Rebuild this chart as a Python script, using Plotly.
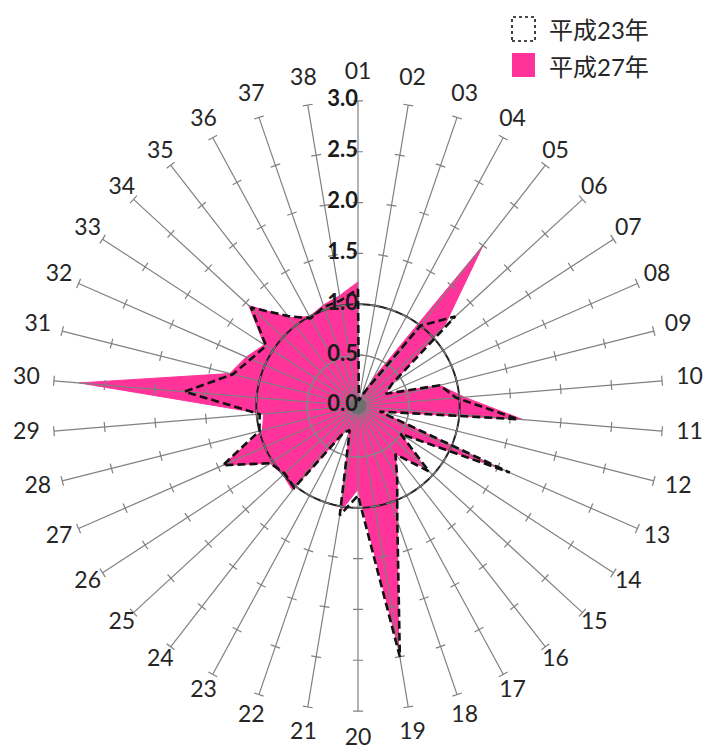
import math
import plotly.graph_objects as go

# ---- data ----
categories = [f"{i:02d}" for i in range(1, 39)]
h27_values = [1.22, 0.05, 0.10, 0.30, 2.00, 1.15, 0.40, 0.30, 0.83, 1.05,
              1.63, 0.22, 1.55, 0.50, 0.90, 0.60, 0.81, 1.19, 2.42, 0.82,
              1.05, 0.25, 0.30, 1.05, 1.00, 1.03, 1.45, 0.97, 0.93, 2.75,
              1.30, 1.20, 1.10, 1.46, 1.10, 1.00, 1.05, 1.10]
h23_values = [1.15, 0.05, 0.10, 0.20, 1.00, 1.30, 0.40, 0.30, 0.83, 0.97,
              1.58, 0.22, 1.63, 0.50, 0.95, 0.60, 0.81, 1.19, 2.50, 0.88,
              1.09, 0.25, 0.30, 1.02, 0.98, 1.03, 1.45, 1.00, 0.97, 1.71,
              1.27, 1.15, 1.08, 1.43, 1.12, 0.98, 1.03, 1.05]
radial_ticks = [0.0, 0.5, 1.0, 1.5, 2.0, 2.5, 3.0]
series_names = ["平成23年", "平成27年"]

# ---- style ----
W, H = 705, 756
CX, CY = 358, 406
UNIT = 101.7          # px per data unit
RMAX = 3.0            # end of spokes
RANGE_MAX = 3.4       # polar range (room for labels)
RD = RANGE_MAX * UNIT  # domain radius in px
PINK = "#FF3399"
GRAY = "#808080"
FONT = "Lato, 'Noto Sans CJK JP', sans-serif"

N = len(categories)
theta = [i * 360.0 / N for i in range(N)]

fig = go.Figure()

# pink fill (H27)
fig.add_trace(go.Scatterpolar(
    r=h27_values + h27_values[:1], theta=theta + theta[:1],
    mode="lines", fill="toself", fillcolor=PINK,
    line=dict(color=PINK, width=1), showlegend=False, hoverinfo="skip"))

# spokes
sr, st = [], []
for t in theta:
    sr += [0, RMAX, None]
    st += [t, t, None]
fig.add_trace(go.Scatterpolar(r=sr, theta=st, mode="lines",
                              line=dict(color=GRAY, width=1.2),
                              showlegend=False, hoverinfo="skip"))

# circles at 0.5 (gray) and 1.0 (black)
circ_t = [i for i in range(0, 361, 2)]
fig.add_trace(go.Scatterpolar(r=[0.5] * len(circ_t), theta=circ_t, mode="lines",
                              line=dict(color="#9a9a9a", width=1.2),
                              showlegend=False, hoverinfo="skip"))
fig.add_trace(go.Scatterpolar(r=[1.0] * len(circ_t), theta=circ_t, mode="lines",
                              line=dict(color="#222222", width=2),
                              showlegend=False, hoverinfo="skip"))

# tick marks on each spoke
hl = 5.0 / UNIT
tr, tt = [], []
for t in theta:
    for v in radial_ticks[1:]:
        d = math.degrees(math.atan(hl / v))
        rr = math.hypot(v, hl)
        tr += [rr, rr, None]
        tt += [t - d, t + d, None]
fig.add_trace(go.Scatterpolar(r=tr, theta=tt, mode="lines",
                              line=dict(color=GRAY, width=1.2),
                              showlegend=False, hoverinfo="skip"))

# center blob
fig.add_trace(go.Scatterpolar(r=[0], theta=[0], mode="markers",
                              marker=dict(color="#6f6f6f", size=17),
                              showlegend=False, hoverinfo="skip"))

# dashed H23
fig.add_trace(go.Scatterpolar(
    r=h23_values + h23_values[:1], theta=theta + theta[:1], mode="lines",
    line=dict(color="#111111", width=2.6, dash="8px,4px"),
    showlegend=False, hoverinfo="skip"))

# radial tick labels along spoke 01
fig.add_trace(go.Scatterpolar(
    r=radial_ticks, theta=[0] * len(radial_ticks), mode="text",
    text=[f"<b>{v:.1f}</b>" for v in radial_ticks],
    textposition="middle left",
    textfont=dict(family=FONT, size=22, color="#1a1a1a"),
    showlegend=False, hoverinfo="skip"))

# category labels (slightly closer on the diagonals, as in the original)
label_r = [(321 + 12 * math.cos(math.radians(2 * t)) ** 2) / UNIT for t in theta]
fig.add_trace(go.Scatterpolar(
    r=label_r, theta=theta, mode="text", text=categories,
    textfont=dict(family=FONT, size=23, color="#262626"),
    textposition="middle center",
    showlegend=False, hoverinfo="skip"))

fig.update_layout(
    width=W, height=H,
    margin=dict(l=0, r=0, t=0, b=0),
    paper_bgcolor="white", plot_bgcolor="white",
    font=dict(family=FONT),
    polar=dict(
        domain=dict(x=[(CX - RD) / W, (CX + RD) / W],
                    y=[1 - (CY + RD) / H, 1 - (CY - RD) / H]),
        bgcolor="rgba(0,0,0,0)",
        angularaxis=dict(rotation=90, direction="clockwise",
                         showgrid=False, showline=False,
                         showticklabels=False, ticks=""),
        radialaxis=dict(range=[0, RANGE_MAX], showgrid=False, showline=False,
                        ticks="", showticklabels=False),
    ),
    showlegend=False,
)

# legend (manual)
def px(x):
    return x / W

def py(y):
    return 1 - y / H

fig.add_shape(type="rect", xref="paper", yref="paper",
              x0=px(512), x1=px(535), y0=py(41), y1=py(17),
              line=dict(color="#111111", width=1.6, dash="dot"),
              fillcolor="white")
fig.add_shape(type="rect", xref="paper", yref="paper",
              x0=px(512), x1=px(535), y0=py(77), y1=py(53),
              line=dict(color=PINK, width=0), fillcolor=PINK)
for name, yy in zip(series_names, [29, 66]):
    fig.add_annotation(text=name, xref="paper", yref="paper",
                       x=px(547), y=py(yy), xanchor="left", yanchor="middle",
                       showarrow=False,
                       font=dict(family=FONT, size=24, color="#262626"))

fig.write_html("out.html", config={"displayModeBar": False},
               post_script="document.body.style.margin='0';document.body.style.padding='0';")
